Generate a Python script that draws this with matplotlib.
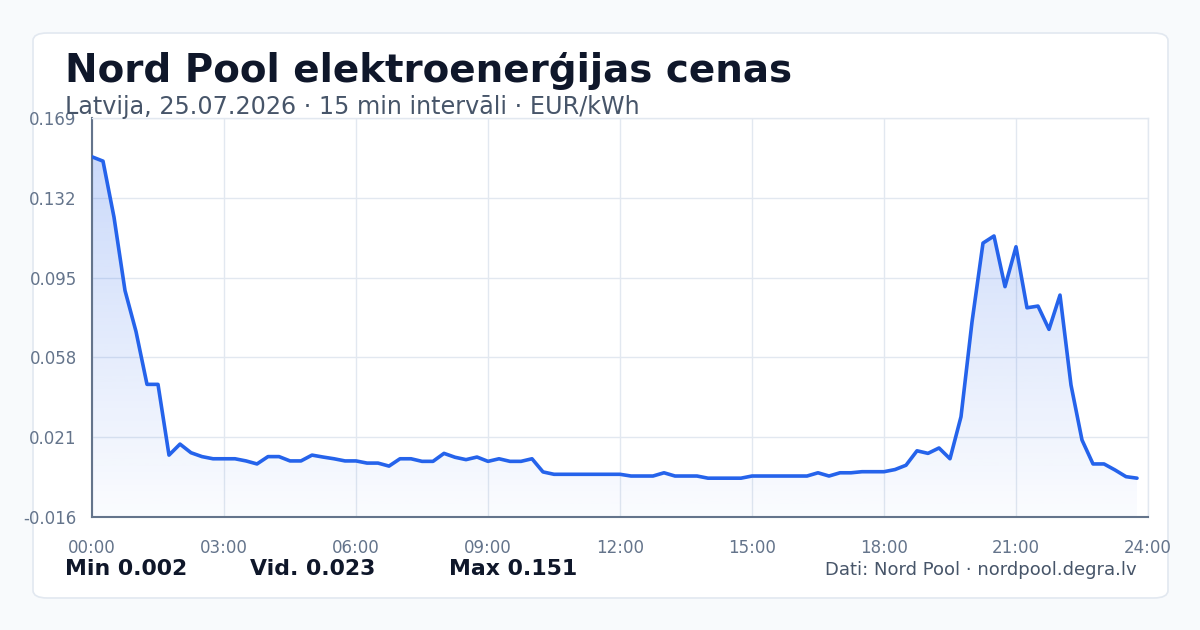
import numpy as np
import matplotlib
matplotlib.use('Agg')
import matplotlib.pyplot as plt
from matplotlib.patches import FancyBboxPatch
from matplotlib.colors import to_rgb

plt.rcParams['font.family'] = ['DejaVu Sans']
plt.rcParams['axes.unicode_minus'] = False

# 15-minute prices, EUR/kWh, 00:00 .. 23:45
prices = [
    0.151, 0.149, 0.123, 0.089, 0.070, 0.0455, 0.0455, 0.0127,
    0.0178, 0.0138, 0.012, 0.011, 0.011, 0.011, 0.010, 0.0086,
    0.012, 0.012, 0.010, 0.010, 0.0127, 0.0118, 0.011, 0.010,
    0.010, 0.009, 0.009, 0.0076, 0.011, 0.011, 0.0098, 0.0098,
    0.0135, 0.0117, 0.0106, 0.0118, 0.0098, 0.011, 0.0098, 0.0098,
    0.011, 0.0049, 0.0038, 0.0038, 0.0038, 0.0038, 0.0038, 0.0038,
    0.0038, 0.003, 0.003, 0.003, 0.0045, 0.003, 0.003, 0.003,
    0.002, 0.002, 0.002, 0.002, 0.003, 0.003, 0.003, 0.003,
    0.003, 0.003, 0.0045, 0.003, 0.0045, 0.0045, 0.005, 0.005,
    0.005, 0.006, 0.008, 0.0147, 0.0135, 0.016, 0.011, 0.0305,
    0.0744, 0.111, 0.1143, 0.0908, 0.1093, 0.081, 0.0818, 0.071,
    0.0869, 0.0452, 0.0197, 0.0086, 0.0086, 0.0058, 0.0027, 0.002,
]
hours = np.arange(len(prices)) * 0.25
y_ticks = [-0.016, 0.021, 0.058, 0.095, 0.132, 0.169]
x_ticks = [0, 3, 6, 9, 12, 15, 18, 21, 24]
x_labels = ['%02d:00' % h for h in x_ticks]

title = 'Nord Pool elektroenerģijas cenas'
subtitle = 'Latvija, 25.07.2026 · 15 min intervāli · EUR/kWh'
source = 'Dati: Nord Pool · nordpool.degra.lv'

line_color = '#2563eb'
grid_color = '#e2e8f0'
tick_color = '#64748b'

fig = plt.figure(figsize=(12, 6.3), dpi=100)
fig.patch.set_facecolor('#f8fafc')

card = FancyBboxPatch((33 / 1200, 1 - 598 / 630), 1135 / 1200, 565 / 630,
                      boxstyle='round,pad=0,rounding_size=0.012',
                      transform=fig.transFigure, facecolor='white',
                      edgecolor=grid_color, linewidth=1.2, zorder=-10)
fig.patches.append(card)

ax = fig.add_axes([92 / 1200, 1 - 517 / 630, 1056 / 1200, 399 / 630])
ax.set_zorder(1)
ax.set_facecolor('none')
ax.set_xlim(0, 24)
ax.set_ylim(y_ticks[0], y_ticks[-1])

# gradient fill under the line
y = np.array(prices)
rgb = to_rgb(line_color)
grad = np.zeros((256, 1, 4))
grad[:, 0, :3] = rgb
grad[:, 0, 3] = np.linspace(0.02, 0.24, 256)
poly = ax.fill_between(hours, y_ticks[0], y, color='none', linewidth=0)
img = ax.imshow(grad, aspect='auto', origin='lower',
                extent=[0, 24, y_ticks[0], max(prices)], zorder=1)
img.set_clip_path(poly.get_paths()[0], transform=ax.transData)

ax.plot(hours, y, color=line_color, linewidth=2.6, zorder=3,
        solid_joinstyle='round', solid_capstyle='round')

ax.set_xticks(x_ticks)
ax.set_xticklabels(x_labels)
ax.set_yticks(y_ticks)
ax.set_yticklabels(['%.3f' % v for v in y_ticks])
ax.grid(True, color=grid_color, linewidth=1)
ax.set_axisbelow(True)
ax.tick_params(length=0, labelsize=12, colors=tick_color)
ax.tick_params(axis='y', pad=11)
ax.tick_params(axis='x', pad=16)
for s in ['top', 'right']:
    ax.spines[s].set_color(grid_color)
    ax.spines[s].set_linewidth(1)
for s in ['left', 'bottom']:
    ax.spines[s].set_color(tick_color)
    ax.spines[s].set_linewidth(1.5)

fig.text(65 / 1200, 1 - 82 / 630, title, fontsize=28, fontweight='bold',
         color='#0f172a', va='baseline')
fig.text(65 / 1200, 1 - 114 / 630, subtitle, fontsize=17.2, color='#475569',
         va='baseline')

stats = [('Min %.3f' % min(prices), 65),
         ('Vid. %.3f' % np.mean(prices), 250),
         ('Max %.3f' % max(prices), 449)]
for txt, xp in stats:
    fig.text(xp / 1200, 1 - 575 / 630, txt, fontsize=15.8, fontweight='bold',
             color='#0f172a', va='baseline')
fig.text(1137 / 1200, 1 - 575 / 630, source, fontsize=13, color='#475569',
         va='baseline', ha='right')

fig.savefig('out.png', dpi=100, facecolor=fig.get_facecolor())
